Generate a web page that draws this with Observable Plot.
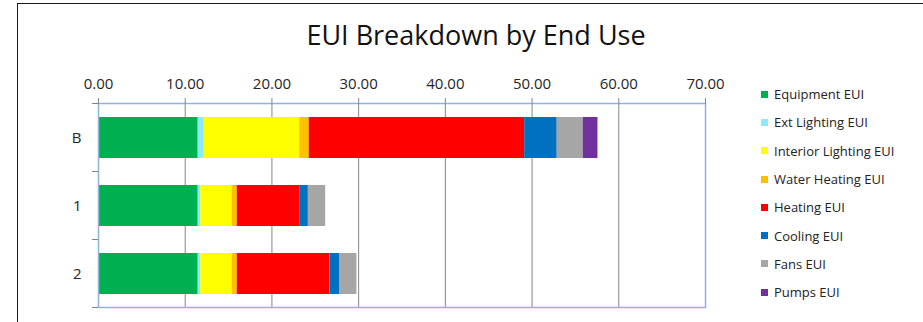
<!DOCTYPE html>
<html>
<head>
<meta charset="utf-8">
<script src="https://cdn.jsdelivr.net/npm/d3@7"></script>
<script src="https://cdn.jsdelivr.net/npm/@observablehq/plot@0.6"></script>
<style>
  html, body { margin: 0; padding: 0; background: #fff; }
  #wrap { position: relative; width: 923px; height: 322px; overflow: hidden; background: #fff; font-family: "Open Sans", sans-serif; }
  #border { position: absolute; left: 17px; top: 3px; width: 920px; height: 330px; border-left: 1.5px solid #1a1a1a; border-top: 1.5px solid #1a1a1a; box-sizing: border-box; }
  #title { position: absolute; left: 276px; width: 400px; top: 21px; text-align: center; font-size: 27px; line-height: 1; color: #111; white-space: nowrap; }
  #chart { position: absolute; left: 0; top: 60px; }
  #legend { position: absolute; left: 761px; top: 85px; font-size: 13px; color: #222; }
  .row { height: 28.3px; display: flex; align-items: center; white-space: nowrap; position: relative; top: -5px; }
  .sw { width: 7px; height: 7px; margin-right: 6px; flex: none; }
</style>
</head>
<body>
<div id="wrap">
  <div id="border"></div>
  <div id="title">EUI Breakdown by End Use</div>
  <div id="chart"></div>
  <div id="legend"></div>
</div>
<script>
const categories = ["B", "1", "2"];
const series = ["Equipment EUI", "Ext Lighting EUI", "Interior Lighting EUI", "Water Heating EUI", "Heating EUI", "Cooling EUI", "Fans EUI", "Pumps EUI"];
const colors = ["#00b050", "#8ee8f6", "#ffff00", "#ffc000", "#ff0000", "#0070c0", "#a6a6a6", "#7030a0"];
const valuesB = [11.5, 0.7, 11.0, 1.1, 24.85, 3.75, 3.0, 1.7];
const values1 = [11.5, 0.3, 3.6, 0.6, 7.2, 1.0, 2.0, 0];
const values2 = [11.5, 0.3, 3.6, 0.6, 10.7, 1.15, 1.95, 0];
const xTicks = [0, 10, 20, 30, 40, 50, 60, 70];

const valuesByCat = [valuesB, values1, values2];
const data = [];
categories.forEach((c, i) => {
  series.forEach((s, j) => data.push({cat: c, series: s, value: valuesByCat[i][j]}));
});

function boundaryTicks(index, scales, values, dimensions) {
  const y = scales.y;
  const step = y.step();
  const bw = y.bandwidth();
  const off = (step - bw) / 2;
  const ys = categories.map(c => y(c) - off);
  ys.push(y(categories[categories.length - 1]) + bw + off);
  const x0 = dimensions.marginLeft;
  const g = d3.create("svg:g");
  g.selectAll("line").data(ys).join("line")
    .attr("x1", x0 - 6).attr("x2", x0)
    .attr("y1", d => d).attr("y2", d => d)
    .attr("stroke", "#868686").attr("stroke-width", 1);
  return g.node();
}

const chart = Plot.plot({
  width: 923,
  height: 262,
  marginTop: 43,
  marginBottom: 15,
  marginLeft: 98,
  marginRight: 218,
  style: {background: "transparent", fontFamily: "'Open Sans', sans-serif", overflow: "visible"},
  x: {domain: [0, 70], axis: null},
  y: {domain: categories, paddingInner: 0.4, paddingOuter: 0.2, axis: null},
  color: {domain: series, range: colors},
  marks: [
    Plot.gridX(xTicks, {stroke: "#868686", strokeOpacity: 1, strokeWidth: 1}),
    Plot.barX(data, Plot.stackX({x: "value", y: "cat", fill: "series"})),
    Plot.frame({stroke: "#8fb3dc", strokeWidth: 1.5}),
    Plot.axisX(xTicks, {anchor: "top", label: null, tickSize: 6, tickPadding: 9, stroke: "#868686", fill: "#262626", fontSize: 15, tickFormat: d3.format(".2f")}),
    Plot.axisY(categories, {anchor: "left", label: null, tickSize: 0, tickPadding: 17, fill: "#262626", fontSize: 15}),
    boundaryTicks
  ]
});
document.getElementById("chart").appendChild(chart);

const legend = d3.select("#legend");
series.forEach((s, i) => {
  const row = legend.append("div").attr("class", "row");
  row.append("div").attr("class", "sw").style("background", colors[i]);
  row.append("span").text(s);
});
</script>
</body>
</html>
